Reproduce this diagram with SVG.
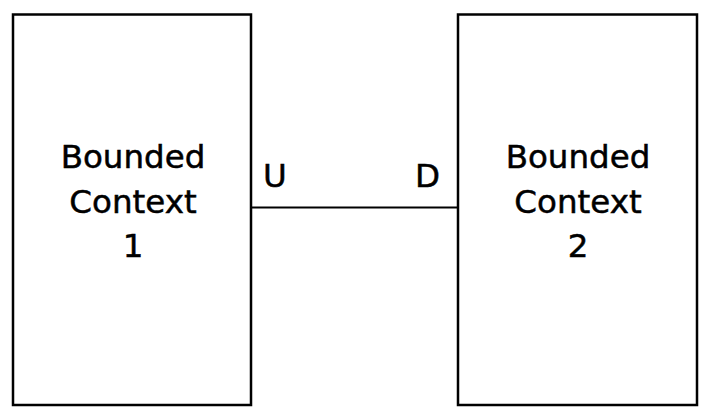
<svg xmlns="http://www.w3.org/2000/svg" width="709" height="418" viewBox="0 0 709 418">
<style>
.box{fill:#fff;stroke:#000;stroke-width:2.5}
.t{font-family:"DejaVu Sans","Liberation Sans",sans-serif;font-size:32.5px;fill:#000;stroke:#000;stroke-width:0.5;text-anchor:middle}
.lbl{font-family:"DejaVu Sans","Liberation Sans",sans-serif;font-size:32.5px;fill:#000;stroke:#000;stroke-width:0.5}
.conn{stroke:#000;stroke-width:2;fill:none}
</style>
<rect width="709" height="418" fill="#fff"/>
<g id="connectors">
<line class="conn" x1="251" y1="207.5" x2="458" y2="207.5"/>
<text class="lbl" x="263" y="187">U</text>
<text class="lbl" x="415" y="187">D</text>
</g>
<g id="bc1">
<rect class="box" x="13" y="14.5" width="238" height="390.5"/>
<text class="t" x="133" y="168">Bounded</text>
<text class="t" x="133" y="213">Context</text>
<text class="t" x="133" y="257">1</text>
</g>
<g id="bc2">
<rect class="box" x="458" y="14.5" width="239" height="390.5"/>
<text class="t" x="578" y="168">Bounded</text>
<text class="t" x="578" y="213">Context</text>
<text class="t" x="578" y="257">2</text>
</g>
</svg>
